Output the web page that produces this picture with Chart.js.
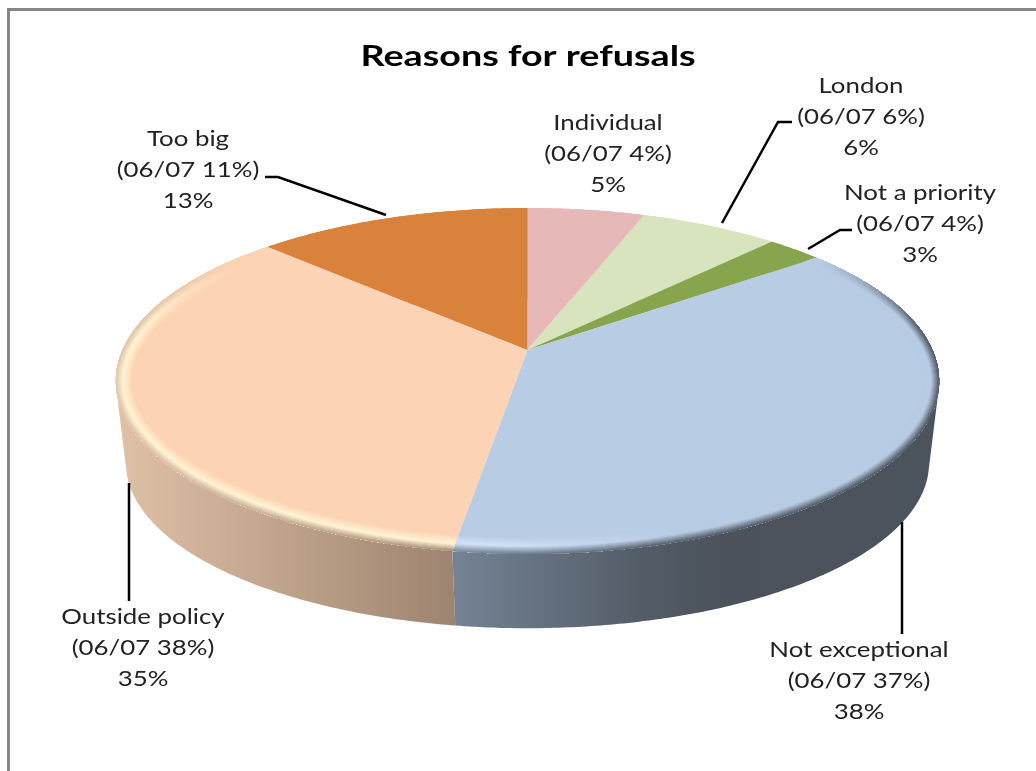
<!DOCTYPE html>
<html>
<head>
<meta charset="utf-8">
<title>Reasons for refusals</title>
<script src="https://cdn.jsdelivr.net/npm/chart.js@4"></script>
<style>
  html, body { margin: 0; background: #fff; overflow: hidden; }
  #frame { position: absolute; left: 7px; top: 8px; width: 1029px; height: 763px; box-sizing: border-box;
           border-left: 3px solid #868686; border-top: 3px solid #868686; }
  #pie { position: absolute; left: 0; top: 0; }
</style>
</head>
<body>
<div id="frame"></div>
<canvas id="pie" width="1036" height="771"></canvas>
<script>
var categories = ['Individual', 'London', 'Not a priority', 'Not exceptional', 'Outside policy', 'Too big'];
// slice sizes, they round to the printed percentages
var shares = [5.45, 6.49, 2.6, 37.9, 34.75, 12.81];
var lastYear = [4, 6, 4, 37, 38, 11];
var sliceColors = ['#E6B9B8', '#D7E4BD', '#88A44D', '#B8CCE4', '#FCD3B4', '#D9823B'];

// label centre and first baseline, then the leader line, same order as categories
var labelSpots = [[608, 130], [861, 93], [920, 200], [859, 657], [143, 624], [188, 146]];
var leaders = [
    null,
    [[792, 122], [778, 122], [722, 223]],
    [[852, 230], [840, 230], [808, 249]],
    [[902, 522], [902, 634]],
    [[129, 483], [129, 601]],
    [[265, 177], [278, 177], [386, 215]]
];

// the tilted disc: perspective view of a circle, so the apex is not the ellipse centre
var topDisc = { cx: 527.5, cy: 350, a: 405, b: 167.4, k: -0.179 };
var lowDisc = { cx: 527.5, cy: 436, a: 396, b: 160.5, k: -0.165 };

// front wall colour against x, only the two slices that show a wall
var wallStops = {
    3: [[457, '#748293'], [640, '#535D68'], [720, '#4B525C'], [945, '#4B535D']],
    4: [[116, '#DFC1A6'], [457, '#9D8470']]
};
var cream = '#FFF4D4';
var iceBlue = '#D2E2FA';
var rimWidth = 17;
var textStretch = 1.23;
var titleStretch = 1.3;

function project(d, ang, r) {
    var w = 1 + d.k * r * Math.sin(ang);
    return [d.cx + d.a * r * Math.cos(ang) / w, d.cy + d.b * r * Math.sin(ang) / w];
}

function rgb(hex) {
    return [parseInt(hex.substr(1, 2), 16), parseInt(hex.substr(3, 2), 16), parseInt(hex.substr(5, 2), 16)];
}
function mix(c1, c2, t) {
    return [c1[0] + (c2[0] - c1[0]) * t, c1[1] + (c2[1] - c1[1]) * t, c1[2] + (c2[2] - c1[2]) * t];
}
function css(c) {
    return 'rgb(' + Math.round(c[0]) + ',' + Math.round(c[1]) + ',' + Math.round(c[2]) + ')';
}

function wallAt(i, x) {
    var st = wallStops[i];
    if (!st) return rgb(sliceColors[i]);
    if (x <= st[0][0]) return rgb(st[0][1]);
    for (var n = 1; n < st.length; n++) {
        if (x <= st[n][0]) return mix(rgb(st[n - 1][1]), rgb(st[n][1]), (x - st[n - 1][0]) / (st[n][0] - st[n - 1][0]));
    }
    return rgb(st[st.length - 1][1]);
}

// t = 0 at the disc edge, t = 1 where the bevel meets the flat top
function rimAt(i, x, t) {
    var base = rgb(sliceColors[i]);
    var wall = wallAt(i, x);
    if (i == 4) {
        var hi = rgb(cream);
        if (t < 0.45) return mix(wall, hi, t / 0.45);
        return mix(hi, base, (t - 0.45) / 0.55);
    }
    var f = Math.max(0, Math.min(1, (680 - x) / 180));
    var light = mix(base, rgb(iceBlue), f);
    if (t < 0.5) return mix(wall, light, t / 0.5);
    return mix(light, base, (t - 0.5) / 0.5);
}

function rimFade(ang) {
    var s = Math.sin(ang);
    return Math.max(0, Math.min(1, (s + 0.6) / 0.45));
}

function wedgePath(ctx, a0, a1) {
    ctx.beginPath();
    ctx.moveTo(topDisc.cx, topDisc.cy);
    var n = Math.ceil((a1 - a0) / 0.01);
    for (var j = 0; j <= n; j++) {
        var p = project(topDisc, a0 + (a1 - a0) * j / n, 1);
        ctx.lineTo(p[0], p[1]);
    }
    ctx.closePath();
}

// the strip folds over itself at the sides of the disc, so it is one path of
// small quads, all wound the same way
function drawWall(ctx, i, a0, a1) {
    var n = Math.ceil((a1 - a0) / 0.01);
    var st = wallStops[i];
    var paint = sliceColors[i];
    if (st) {
        paint = ctx.createLinearGradient(st[0][0], 0, st[st.length - 1][0], 0);
        var span = st[st.length - 1][0] - st[0][0];
        st.forEach(function (s) { paint.addColorStop((s[0] - st[0][0]) / span, s[1]); });
    }
    ctx.beginPath();
    for (var j = 0; j < n; j++) {
        var b0 = a0 + (a1 - a0) * j / n, b1 = a0 + (a1 - a0) * (j + 1) / n;
        var q = [project(topDisc, b0, 1), project(topDisc, b1, 1), project(lowDisc, b1, 1), project(lowDisc, b0, 1)];
        var area = 0;
        for (var m = 0; m < 4; m++) {
            var u = q[m], v = q[(m + 1) % 4];
            area += u[0] * v[1] - v[0] * u[1];
        }
        if (area < 0) q.reverse();
        ctx.moveTo(q[0][0], q[0][1]);
        ctx.lineTo(q[1][0], q[1][1]);
        ctx.lineTo(q[2][0], q[2][1]);
        ctx.lineTo(q[3][0], q[3][1]);
        ctx.closePath();
    }
    ctx.fillStyle = paint;
    ctx.fill();
}

function drawRim(ctx, i, a0, a1) {
    var base = rgb(sliceColors[i]);
    var step = 0.008;
    ctx.save();
    wedgePath(ctx, a0, a1);
    ctx.clip();
    ctx.lineCap = 'round';
    for (var w = rimWidth; w >= 1; w--) {
        ctx.lineWidth = w * 2;
        for (var ang = a0; ang < a1; ang += step) {
            var fade = rimFade(ang);
            if (fade <= 0) continue;
            var p0 = project(topDisc, ang, 1), p1 = project(topDisc, ang + step, 1);
            ctx.strokeStyle = css(mix(base, rimAt(i, p0[0], w / rimWidth), fade));
            ctx.beginPath();
            ctx.moveTo(p0[0], p0[1]);
            ctx.lineTo(p1[0], p1[1]);
            ctx.stroke();
        }
    }
    ctx.restore();
}

function stretchedText(ctx, str, x, y, sx) {
    ctx.save();
    ctx.translate(x, y);
    ctx.scale(sx, 1);
    ctx.fillText(str, 0, 0);
    ctx.restore();
}

var tiltedPie = {
    id: 'tiltedPie',
    // slices take their angles from the chart's arc elements
    beforeDatasetDraw: function (chart, args) {
        var ctx = chart.ctx;
        var arcs = args.meta.data;
        ctx.save();
        arcs.forEach(function (arc, i) { drawWall(ctx, i, arc.startAngle, arc.endAngle); });
        arcs.forEach(function (arc, i) {
            wedgePath(ctx, arc.startAngle, arc.endAngle);
            ctx.fillStyle = arc.options.backgroundColor;
            ctx.fill();
            drawRim(ctx, i, arc.startAngle, arc.endAngle);
        });
        ctx.restore();
        return false;
    },
    afterDatasetsDraw: function (chart) {
        var ctx = chart.ctx;
        ctx.save();
        ctx.strokeStyle = '#000';
        ctx.lineWidth = 2.5;
        leaders.forEach(function (ln) {
            if (!ln) return;
            ctx.beginPath();
            ln.forEach(function (p, n) { if (n == 0) ctx.moveTo(p[0], p[1]); else ctx.lineTo(p[0], p[1]); });
            ctx.stroke();
        });
        ctx.textAlign = 'center';
        ctx.fillStyle = '#000';
        ctx.font = 'bold 29px Lato';
        stretchedText(ctx, 'Reasons for refusals', 528, 66, titleStretch);
        ctx.fillStyle = '#222';
        ctx.font = '21px Lato';
        categories.forEach(function (name, i) {
            var s = labelSpots[i];
            stretchedText(ctx, name, s[0], s[1], textStretch);
            stretchedText(ctx, '(06/07 ' + lastYear[i] + '%)', s[0], s[1] + 31, textStretch);
            stretchedText(ctx, Math.round(shares[i]) + '%', s[0], s[1] + 62, textStretch);
        });
        ctx.restore();
    }
};

var chart = new Chart(document.getElementById('pie').getContext('2d'), {
    type: 'pie',
    data: {
        labels: categories,
        datasets: [{ data: shares, backgroundColor: sliceColors, borderWidth: 0 }]
    },
    options: {
        responsive: false,
        animation: false,
        plugins: {
            legend: { display: false },
            tooltip: { enabled: false }
        }
    },
    plugins: [tiltedPie]
});
</script>
</body>
</html>
